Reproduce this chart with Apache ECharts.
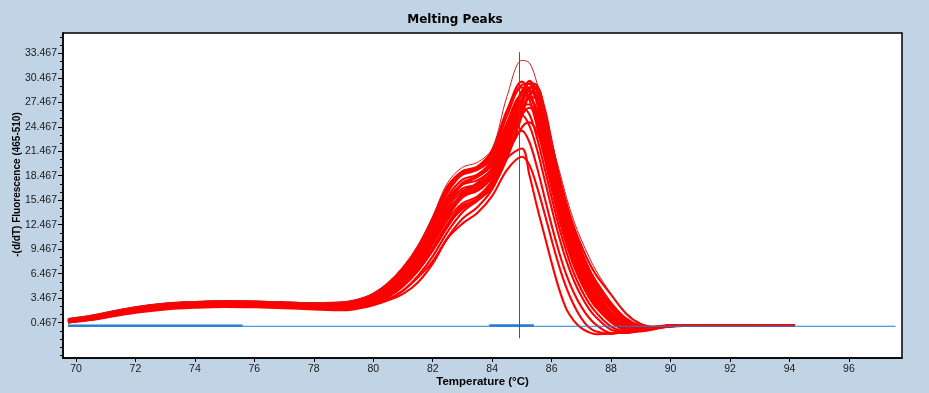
<!DOCTYPE html>
<html>
<head>
<meta charset="utf-8">
<script src="https://cdn.jsdelivr.net/npm/echarts@6/dist/echarts.min.js"></script>
<style>
html,body{margin:0;padding:0;background:#C1D4E5;}
#chart{width:929px;height:393px;}
</style>
</head>
<body>
<div id="chart"></div>
<script>
// Temperature grid (°C) shared by the red melting-peak curves
const temps = [69.73,70.5,71.25,72,73,74,75,76,77,78,79,79.5,80,80.5,81,81.5,82,82.5,83,83.5,84,84.5,85,85.25,85.5,85.75,86,86.25,86.5,86.75,87,87.25,87.5,88,88.5,89,89.5,90,91,92,93,94.18];

// -(d/dT) Fluorescence values, one array per sample curve
const curveA  = [0.95,1.35,1.9,2.4,2.85,3.05,3.15,3.1,3.0,2.9,3.0,3.35,4.1,5.4,7.3,9.9,13.5,17.6,19.5,20.1,21.8,28.2,32.6,32.3,29.9,26.2,22.6,19.2,15.8,12.9,10.6,8.6,6.8,4.0,1.6,0.3,0.0,0.1,0.15,0.15,0.15,0.15];
const curveB1 = [0.8,1.2,1.75,2.25,2.7,2.95,3.05,3.0,2.9,2.8,2.9,3.2,3.8,5.0,6.8,9.3,12.7,16.4,18.7,19.4,21.2,25.8,29.6,29.7,27.4,23.6,19.4,15.3,11.8,8.9,6.6,4.7,3.3,1.2,0.0,-0.3,-0.1,0.1,0.15,0.1,0.1,0.1];
const curveB2 = [0.7,1.1,1.6,2.1,2.6,2.85,2.95,2.9,2.8,2.7,2.7,2.95,3.5,4.5,6.1,8.5,11.6,15.0,17.4,18.3,19.8,24.0,28.6,30.1,28.9,25.4,21.2,17.0,13.3,10.2,7.6,5.6,4.0,1.6,0.3,-0.2,-0.1,0.1,0.15,0.15,0.1,0.1];
const curveB3 = [0.6,1.0,1.5,2.0,2.5,2.75,2.85,2.8,2.7,2.6,2.55,2.75,3.2,4.1,5.6,7.8,10.7,13.9,16.2,17.2,18.6,22.6,27.2,29.1,29.3,26.3,22.0,17.6,13.8,10.7,8.1,6.0,4.3,1.8,0.4,-0.2,-0.1,0.1,0.1,0.15,0.1,0.1];
const curveB4 = [0.5,0.85,1.3,1.75,2.2,2.4,2.5,2.45,2.35,2.2,2.1,2.3,2.7,3.3,4.4,6.2,8.6,11.6,14.0,15.4,17.0,20.6,25.8,28.4,29.2,26.9,22.7,18.2,15.0,12.2,9.9,7.9,6.3,3.9,1.6,0.3,-0.1,0.1,0.1,0.1,0.15,0.15];
const curveB5 = [0.9,1.3,1.85,2.35,2.8,3.0,3.1,3.05,2.95,2.85,2.95,3.3,4.0,5.3,7.2,9.8,13.3,17.2,19.0,19.6,21.6,26.5,29.3,27.8,24.6,20.8,16.9,13.2,10.0,7.4,5.3,3.6,2.3,0.5,-0.4,-0.5,-0.2,0.05,0.1,0.15,0.15,0.15];
const curveB6 = [0.7,1.1,1.65,2.15,2.6,2.85,2.95,2.9,2.8,2.7,2.7,3.0,3.55,4.6,6.2,8.6,11.8,15.3,17.6,18.4,20.2,24.6,28.9,29.8,28.0,24.4,20.2,16.0,12.4,9.4,7.0,5.0,3.5,1.3,0.1,-0.3,-0.1,0.1,0.1,0.1,0.15,0.15];
const curveB7 = [0.6,0.95,1.45,1.95,2.4,2.65,2.75,2.7,2.6,2.5,2.45,2.65,3.1,4.0,5.4,7.5,10.3,13.4,15.8,16.8,18.5,22.4,26.6,28.1,27.9,25.2,21.4,17.4,13.9,10.9,8.4,6.4,4.7,2.2,0.6,-0.1,-0.1,0.1,0.1,0.1,0.1,0.15];
const curveB8 = [0.85,1.25,1.8,2.3,2.75,3.0,3.1,3.05,2.95,2.85,2.9,3.25,3.9,5.1,7.0,9.6,13.0,16.8,18.6,19.2,21.4,26.4,30.0,28.9,26.0,22.2,18.2,14.3,11.0,8.2,6.0,4.2,2.9,0.9,-0.2,-0.4,-0.1,0.1,0.1,0.1,0.1,0.1];
const curveB9 = [0.5,0.85,1.35,1.8,2.25,2.45,2.55,2.5,2.4,2.25,2.15,2.35,2.8,3.6,4.9,6.8,9.3,12.2,14.6,15.6,17.4,21.6,26.6,28.0,26.6,23.2,19.2,15.2,11.7,8.8,6.5,4.6,3.2,1.1,-0.1,-0.3,-0.1,0.1,0.1,0.1,0.1,0.1];
const curveB10 = [0.5,0.8,1.25,1.7,2.1,2.3,2.4,2.35,2.25,2.1,2.0,2.2,2.6,3.3,4.4,6.0,8.0,10.9,13.2,14.6,16.8,21.0,26.0,28.5,28.7,26.0,22.0,17.8,14.4,11.5,9.1,7.1,5.5,2.9,1.0,0.1,-0.1,0.1,0.1,0.1,0.15,0.15];
const curveB11 = [0.65,1.0,1.5,2.0,2.45,2.7,2.8,2.75,2.65,2.55,2.5,2.7,3.2,4.1,5.5,7.7,10.6,13.8,16.4,17.6,19.4,23.6,27.8,29.8,29.6,26.6,22.4,18.0,14.3,11.2,8.6,6.5,4.8,2.2,0.6,-0.1,-0.1,0.1,0.15,0.15,0.15,0.1];
const curveC1 = [0.75,1.15,1.7,2.2,2.65,2.9,3.0,2.95,2.85,2.75,2.8,3.05,3.6,4.7,6.4,8.9,12.1,15.6,17.4,17.9,19.3,23.3,27.2,27.2,25.0,21.6,17.8,14.0,10.7,7.9,5.7,4.0,2.6,0.6,-0.4,-0.4,-0.2,0.05,0.1,0.15,0.15,0.1];
const curveC2 = [0.65,1.05,1.55,2.05,2.5,2.75,2.85,2.8,2.7,2.6,2.6,2.85,3.35,4.3,5.8,8.0,11.0,14.2,16.0,16.6,18.3,22.0,25.9,24.6,21.8,18.2,14.5,11.0,8.0,5.6,3.7,2.2,1.1,-0.4,-0.7,-0.5,-0.2,0.05,0.1,0.1,0.1,0.15];
const curveC3 = [0.7,1.05,1.6,2.1,2.55,2.8,2.9,2.85,2.75,2.65,2.6,2.85,3.4,4.4,5.9,8.2,11.2,14.5,16.6,17.2,18.8,22.4,25.9,26.8,25.6,22.6,18.9,15.1,11.7,8.8,6.5,4.6,3.2,1.0,-0.2,-0.4,-0.2,0.05,0.1,0.1,0.1,0.1];
const curveC4 = [0.85,1.25,1.8,2.3,2.75,2.95,3.05,3.0,2.9,2.8,2.85,3.15,3.8,5.0,6.9,9.5,13.0,16.9,19.0,19.4,20.8,25.0,28.3,28.2,25.8,22.2,18.3,14.4,11.0,8.2,6.0,4.2,2.8,0.8,-0.3,-0.4,-0.2,0.05,0.1,0.1,0.15,0.15];
const curveD1 = [0.55,0.9,1.4,1.85,2.3,2.5,2.6,2.55,2.45,2.3,2.2,2.35,2.7,3.2,4.0,5.4,7.7,10.8,12.6,13.9,16.0,19.2,20.8,19.8,17.2,14.0,10.6,7.4,4.7,2.6,1.0,-0.1,-0.6,-0.9,-0.6,-0.3,0.0,0.1,0.1,0.1,0.1,0.1];
const curveD2 = [0.6,0.95,1.45,1.9,2.35,2.55,2.65,2.6,2.5,2.4,2.35,2.55,3.0,3.9,5.2,7.1,9.6,12.5,14.4,15.4,17.6,20.6,21.8,18.6,14.8,11.3,7.8,4.6,2.1,0.7,-0.2,-0.7,-0.95,-0.85,-0.55,-0.25,0.0,0.1,0.1,0.1,0.1,0.1];
const curveD3 = [0.6,1.0,1.5,1.95,2.4,2.6,2.7,2.65,2.55,2.45,2.4,2.6,3.1,4.0,5.4,7.4,10.1,13.1,15.1,15.9,17.9,21.6,24.0,22.6,19.6,16.0,12.4,9.1,6.3,4.1,2.4,1.1,0.2,-0.8,-0.8,-0.5,-0.2,0.05,0.1,0.1,0.1,0.1];
const curveE1 = [0.75,1.15,1.7,2.2,2.65,2.9,3.0,2.95,2.85,2.75,2.75,3.05,3.65,4.75,6.5,9.0,12.3,15.9,18.0,18.6,20.4,24.8,28.6,29.0,27.6,24.2,20.2,16.2,12.7,9.7,7.2,5.2,3.7,1.4,0.1,-0.3,-0.1,0.1,0.1,0.1,0.1,0.1];
const curveE2 = [0.6,0.95,1.45,1.95,2.4,2.65,2.75,2.7,2.6,2.5,2.45,2.65,3.1,4.0,5.5,7.6,10.5,13.6,16.0,17.0,18.8,22.9,27.3,29.3,29.2,26.5,22.5,18.4,14.8,11.7,9.1,6.9,5.1,2.4,0.8,0.0,-0.1,0.1,0.1,0.1,0.1,0.1];
const curveE3 = [0.7,1.1,1.6,2.1,2.55,2.8,2.9,2.85,2.75,2.65,2.65,2.9,3.45,4.5,6.0,8.4,11.5,14.9,16.9,17.4,19.0,23.0,26.9,26.0,23.2,19.6,15.8,12.2,9.1,6.5,4.5,2.9,1.7,0.0,-0.6,-0.6,-0.3,0.0,0.1,0.1,0.1,0.1];
const curveE4 = [0.55,0.9,1.4,1.85,2.3,2.5,2.6,2.55,2.45,2.35,2.25,2.45,2.9,3.7,5.0,7.0,9.6,12.6,14.8,15.6,17.4,21.0,24.4,25.0,23.9,21.2,17.8,14.3,11.1,8.3,6.0,4.2,2.8,0.7,-0.4,-0.5,-0.2,0.05,0.1,0.1,0.1,0.1];
const curveE5 = [0.8,1.2,1.75,2.25,2.7,2.95,3.05,3.0,2.9,2.8,2.85,3.15,3.75,4.9,6.7,9.3,12.8,16.6,18.8,19.2,20.6,24.4,27.9,28.8,28.3,25.9,22.3,18.5,15.0,11.9,9.3,7.1,5.3,2.6,0.8,0.0,-0.1,0.1,0.1,0.15,0.15,0.15];

const redCurves = [curveD1,curveD2,curveD3,curveC1,curveC2,curveC3,curveC4,curveB1,curveB2,curveB3,curveB4,curveB5,curveB6,curveB7,curveB8,curveB9,curveB10,curveB11,curveE1,curveE2,curveE3,curveE4,curveE5,curveA];

// Blue (negative control) traces
const blueT1 = [69.73,75,80,85,90,95,97.57];
const blueV1 = [0.03,0.03,0.03,0.03,0.03,0.03,0.03];
const blueT2 = [69.73,72.5,75.6];
const blueV2 = [0.1,0.1,0.1];
const blueT3 = [83.9,84.6,85.4];
const blueV3 = [0.12,0.12,0.12];

// Vertical cursor (temperature, top and bottom values)
const cursorT = 84.92;
const cursorTop = 33.6;
const cursorBottom = -1.45;

// Axis ticks
const xTicks = [70,72,74,76,78,80,82,84,86,88,90,92,94,96];
const yTicks = [0.467,3.467,6.467,9.467,12.467,15.467,18.467,21.467,24.467,27.467,30.467,33.467];
const yMinor = [-3.533,-2.533,-1.533,-0.533,0.467,1.467,2.467,3.467,4.467,5.467,6.467,7.467,8.467,9.467,10.467,11.467,12.467,13.467,14.467,15.467,16.467,17.467,18.467,19.467,20.467,21.467,22.467,23.467,24.467,25.467,26.467,27.467,28.467,29.467,30.467,31.467,32.467,33.467,34.467,35.467];

const zip = (xs, ys) => xs.map((x, i) => [x, ys[i]]);

const series = [];
redCurves.forEach((c, k) => {
  const outer = k === redCurves.length - 1;
  const col = outer ? '#c8201e' : '#ff0000';
  series.push({
    type: 'line', data: zip(temps, c), showSymbol: false, smooth: 0.35,
    itemStyle: { color: col },
    lineStyle: { color: col, width: outer ? 1 : 2.1 },
    silent: true, z: 3
  });
});
series.push({ type: 'line', data: zip(blueT1, blueV1), showSymbol: false, itemStyle: { color: '#1f7fd6' }, lineStyle: { color: '#1f7fd6', width: 1.2 }, z: 3, silent: true,
  markLine: {
    silent: true, symbol: ['none', 'none'], label: { show: false }, z: 5,
    lineStyle: { color: '#b52a2a', width: 1, type: 'solid' },
    data: [[{ coord: [cursorT, cursorTop] }, { coord: [cursorT, cursorBottom] }]]
  }
});
series.push({ type: 'line', data: zip(blueT2, blueV2), showSymbol: false, itemStyle: { color: '#1f7fd6' }, lineStyle: { color: '#1f7fd6', width: 2.3 }, z: 3, silent: true });
series.push({ type: 'line', data: zip(blueT3, blueV3), showSymbol: false, itemStyle: { color: '#1f7fd6' }, lineStyle: { color: '#1f7fd6', width: 2.5 }, z: 3, silent: true });

const chart = echarts.init(document.getElementById('chart'), null, { renderer: 'canvas' });
chart.setOption({
  animation: false,
  backgroundColor: '#C1D4E5',
  title: {
    text: 'Melting Peaks', left: 455, top: 14, padding: 0, textAlign: 'center',
    textStyle: { fontFamily: 'DejaVu Sans', fontWeight: 'bold', fontSize: 12, color: '#000' }
  },
  grid: { left: 63, top: 33, right: 27, bottom: 35, containLabel: false, outerBoundsMode: 'none', show: true, backgroundColor: '#ffffff', borderColor: '#000', borderWidth: 1.5 },
  xAxis: {
    type: 'value', min: 69.563, max: 97.785,
    name: 'Temperature (°C)', nameLocation: 'middle', nameGap: 18, nameMoveOverlap: false,
    nameTextStyle: { fontFamily: 'Liberation Sans', fontWeight: 'bold', fontSize: 11.5, color: '#000' },
    axisLine: { show: true, onZero: false, lineStyle: { color: '#000', width: 1.5 } },
    axisTick: { show: true, length: 4, lineStyle: { color: '#000' }, customValues: xTicks },
    axisLabel: { customValues: xTicks, margin: 6, fontFamily: 'Liberation Sans', fontSize: 10.5, color: '#1a1a1a' },
    splitLine: { show: false }
  },
  yAxis: [{
    type: 'value', min: -3.86, max: 35.954,
    name: '-(d/dT) Fluorescence (465-510)', nameLocation: 'middle', nameGap: 41, nameRotate: 90, nameMoveOverlap: false,
    nameTextStyle: { fontFamily: 'Liberation Sans', fontWeight: 'bold', fontSize: 10, color: '#000', padding: [0, 0, 0, 22] },
    axisLine: { show: true, onZero: false, lineStyle: { color: '#000', width: 1.5 } },
    axisTick: { show: true, length: 5, lineStyle: { color: '#000' }, customValues: yTicks },
    axisLabel: { customValues: yTicks, margin: 6, fontFamily: 'Liberation Sans', fontSize: 10.5, color: '#1a1a1a', formatter: v => v.toFixed(3) },
    splitLine: { show: false }
  }, {
    type: 'value', min: -3.86, max: 35.954, position: 'left',
    axisLine: { show: false, onZero: false },
    axisTick: { show: true, length: 3, lineStyle: { color: '#000' }, customValues: yMinor },
    axisLabel: { show: false },
    splitLine: { show: false }
  }],
  series: series
});
</script>
</body>
</html>
